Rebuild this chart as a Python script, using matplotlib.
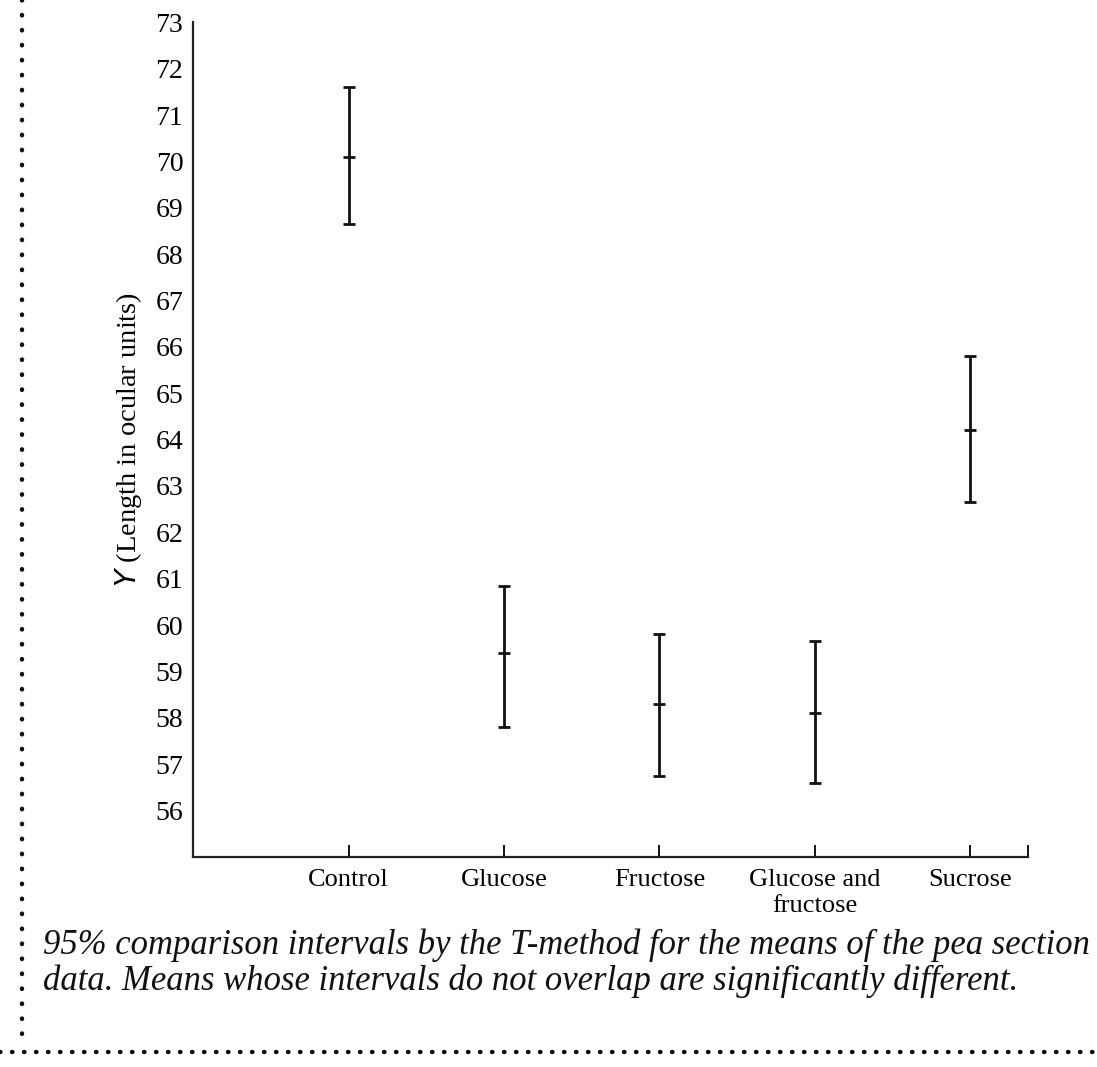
import matplotlib
matplotlib.use("Agg")
import matplotlib.pyplot as plt
from matplotlib.lines import Line2D

# pea section data: treatment means with 95% T-method comparison limits
treatments = ["Control", "Glucose", "Fructose", "Glucose and\nfructose", "Sucrose"]
means = [70.1, 59.4, 58.3, 58.1, 64.2]
lower = [68.65, 57.8, 56.75, 56.6, 62.65]
upper = [71.6, 60.85, 59.8, 59.65, 65.8]

y_labels = list(range(56, 74))
y_marks = [60, 65, 70, 73]

plt.rcParams["font.family"] = ["Liberation Serif", "DejaVu Serif"]

fig = plt.figure(figsize=(10.97, 10.67), dpi=100)
ax = fig.add_axes([0.176, 0.197, 0.761, 0.782])

x = list(range(1, len(treatments) + 1))
err_lo = [m - lo for m, lo in zip(means, lower)]
err_hi = [hi - m for m, hi in zip(means, upper)]
ax.errorbar(x, means, yerr=[err_lo, err_hi], fmt="_", color="#111111",
            ecolor="#111111", elinewidth=2.0, capsize=4.6, capthick=2.0,
            markersize=9, markeredgewidth=2.0)

ax.set_xlim(0, 5.37)
ax.set_ylim(55, 73)

for side in ("top", "right"):
    ax.spines[side].set_visible(False)
for side in ("left", "bottom"):
    ax.spines[side].set_linewidth(1.6)
    ax.spines[side].set_color("#222222")

# labels on every integer, tick marks only at a few values
ax.set_yticks(y_labels)
ax.set_yticklabels([str(v) for v in y_labels])
ax.set_yticks(y_marks, minor=True)
ax.tick_params(axis="y", which="major", length=0, pad=7, labelsize=20)
ax.tick_params(axis="y", which="minor", direction="in", length=8, width=1.3)

ax.set_xticks(x)
ax.set_xticklabels(treatments, linespacing=1.2)
ax.set_xticks([5.37], minor=True)
ax.tick_params(axis="x", which="major", direction="in", length=9, width=1.3,
               pad=9, labelsize=19)
ax.tick_params(axis="x", which="minor", direction="in", length=9, width=1.3)
for lbl in ax.get_xticklabels():
    lbl.set_verticalalignment("top")

ax.set_ylabel(r"$Y$ (Length in ocular units)", fontsize=20.5, labelpad=8)

caption = ("95% comparison intervals by the T-method for the means of the pea section\n"
           "data. Means whose intervals do not overlap are significantly different.")
fig.text(0.039, 0.097, caption, fontsize=24.9, style="italic", ha="left",
         va="center", linespacing=1.1, color="#111111")

# dotted frame around the figure
dots = dict(color="#111111", linewidth=3.2, dash_capstyle="round",
            transform=fig.transFigure)
fig.add_artist(Line2D([0.02, 0.02], [1.0, 0.022],
                      linestyle=(0, (0.1, 3.27)), **dots))
fig.add_artist(Line2D([0.0, 1.0], [0.014, 0.014],
                      linestyle=(0, (0.1, 2.6)), **dots))

fig.savefig("out.png", dpi=100)
